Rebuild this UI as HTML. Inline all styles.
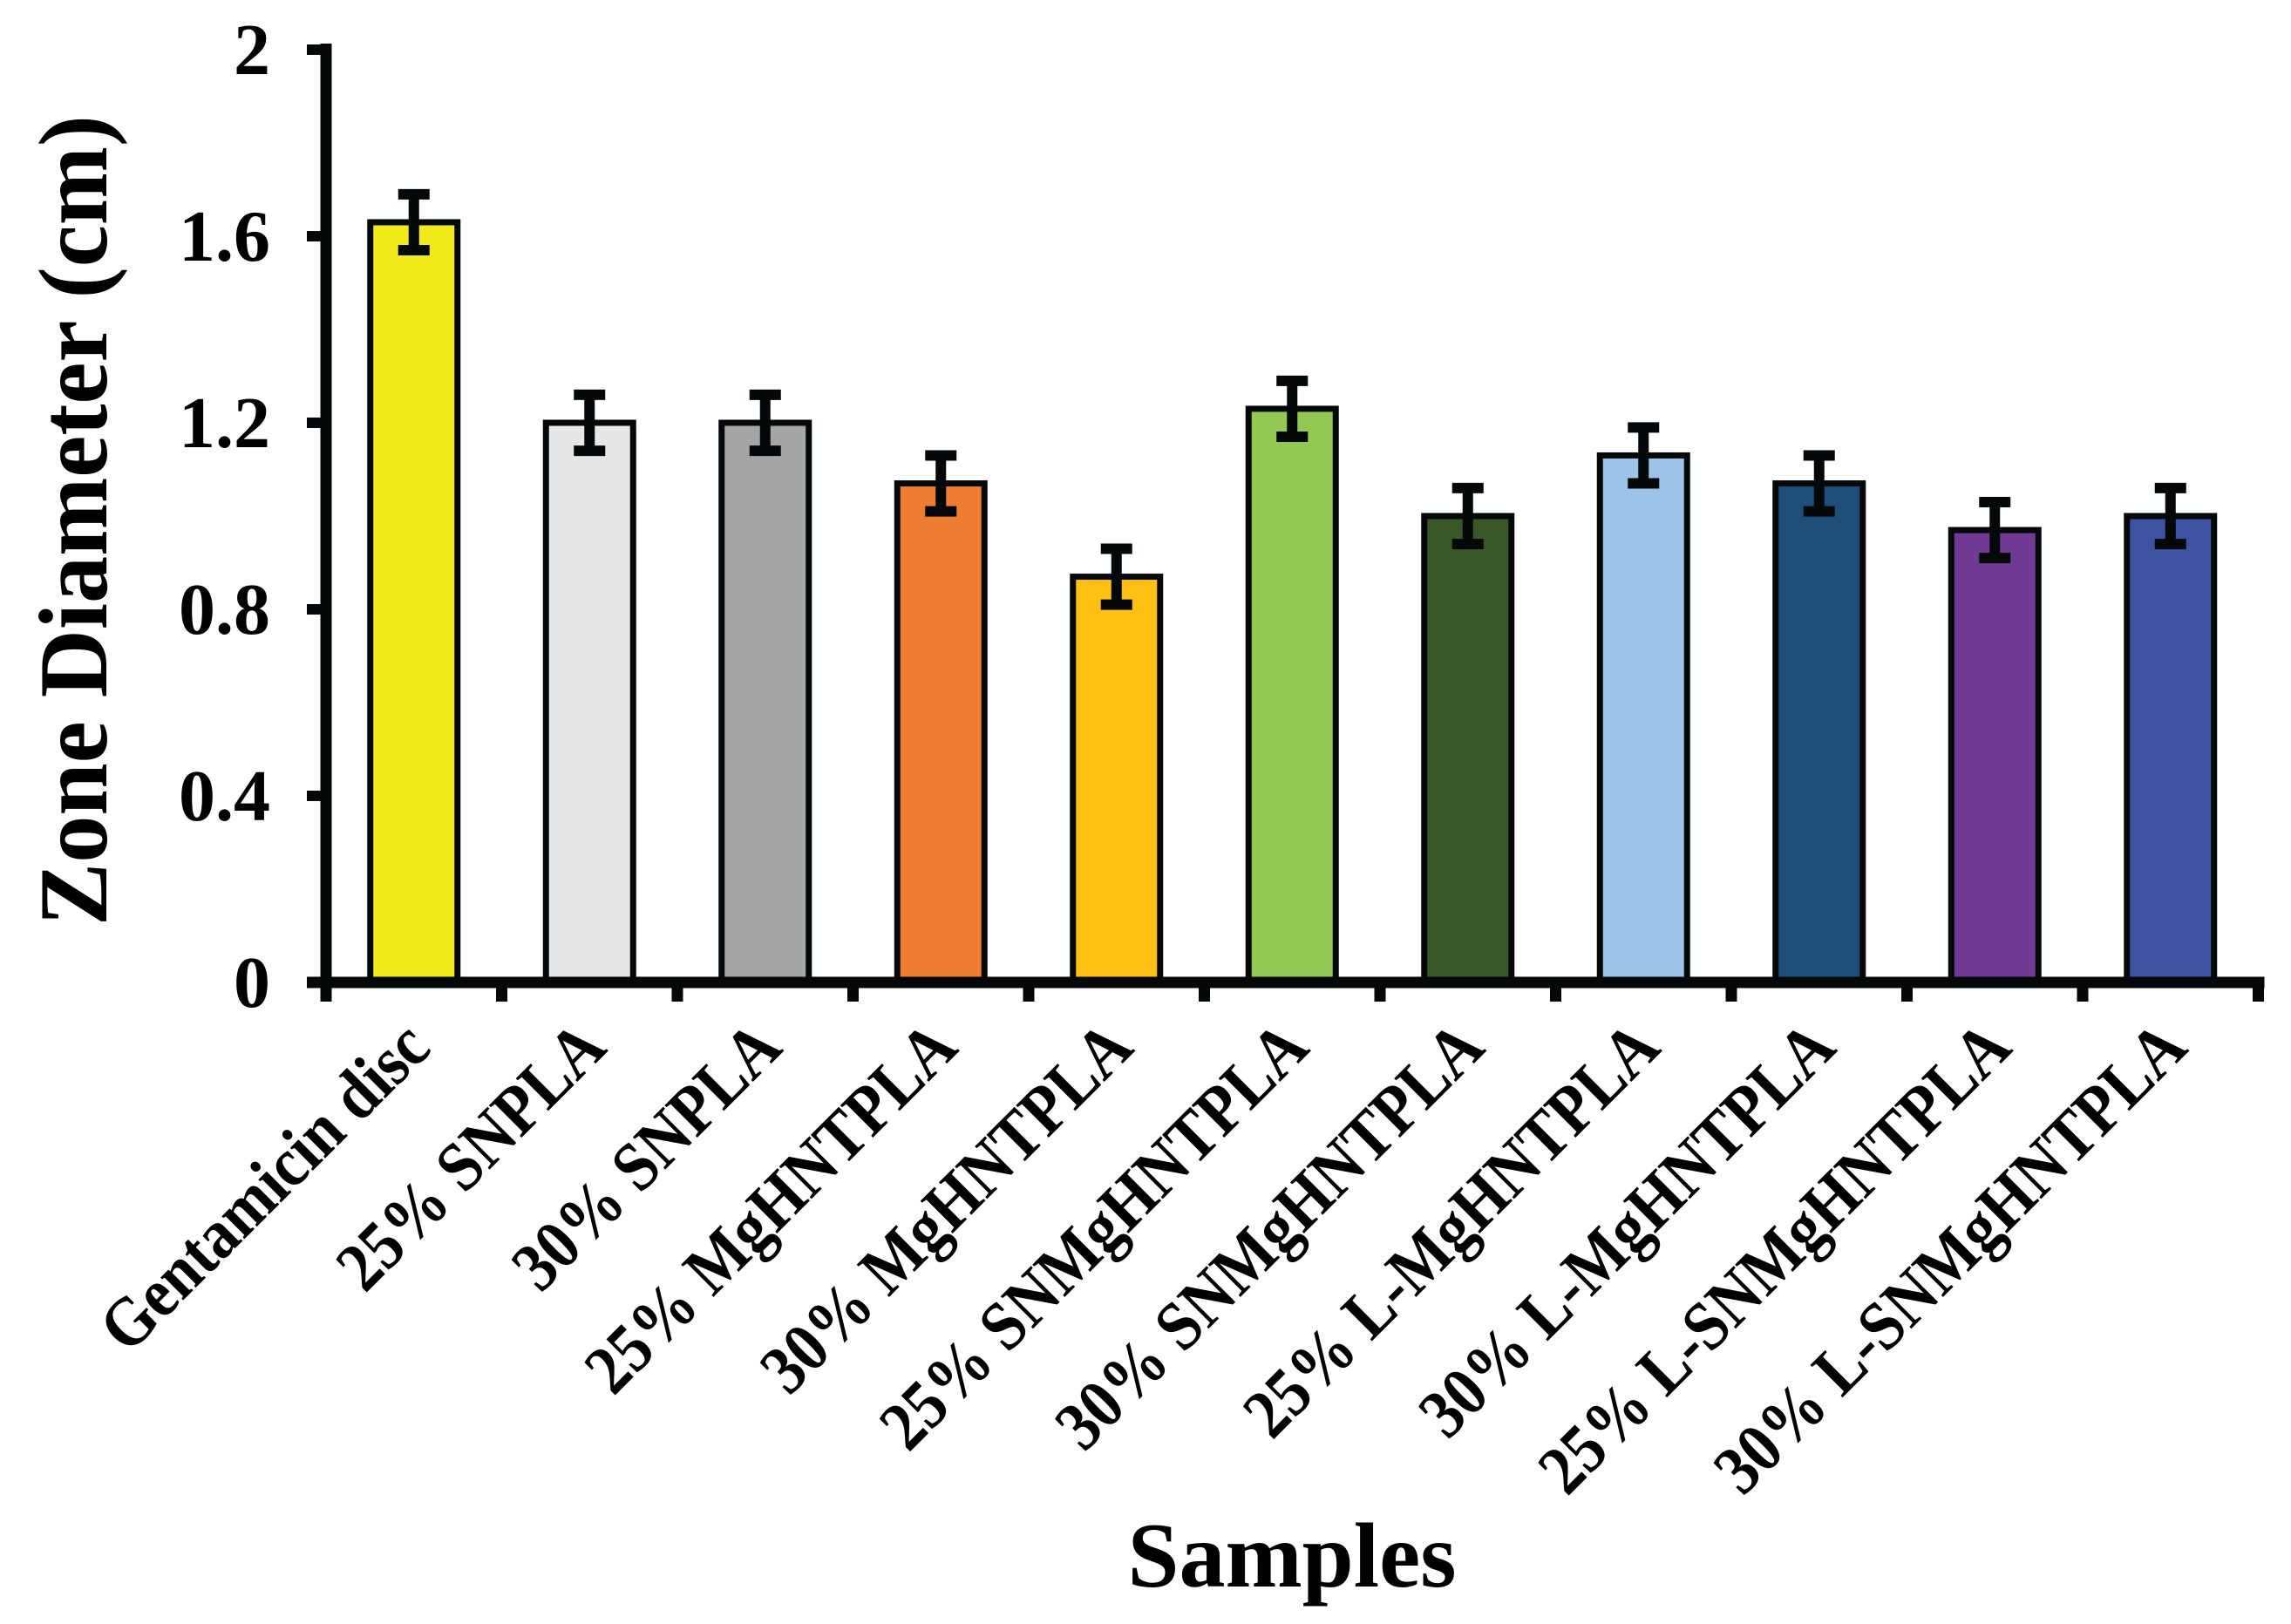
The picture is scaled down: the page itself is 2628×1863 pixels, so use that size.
<!DOCTYPE html>
<html><head><meta charset="utf-8"><style>
html,body{margin:0;padding:0;background:#fff;}
svg{display:block;font-family:"Liberation Serif",serif;font-weight:bold;}
</style></head><body>
<svg id="chart" width="2628" height="1863" viewBox="0 0 2628 1863" xmlns="http://www.w3.org/2000/svg">
<g id="bars"></g>
<g id="axes"></g>
<text x="0" y="0" transform="translate(122,597) rotate(-90)" text-anchor="middle" font-size="112" textLength="930" lengthAdjust="spacingAndGlyphs">Zone Diameter (cm)</text>
<text x="1482" y="1820" text-anchor="middle" font-size="106">Samples</text>
</svg>
<script>
const categories=["Gentamicin disc","25% SNPLA","30% SNPLA","25% MgHNTPLA","30% MgHNTPLA","25% SNMgHNTPLA","30% SNMgHNTPLA","25% L-MgHNTPLA","30% L-MgHNTPLA","25% L-SNMgHNTPLA","30% L-SNMgHNTPLA"];
const values=[1.63,1.20,1.20,1.07,0.87,1.23,1.00,1.13,1.07,0.97,1.00];
const errors=[0.06,0.06,0.06,0.06,0.06,0.06,0.06,0.06,0.06,0.06,0.06];
const colors=["#F2EA1B","#E7E7E7","#A5A5A5","#ED7D31","#FFC014","#92C853","#385728","#9DC3E6","#1F4E79","#703A94","#3F51A1"];
const yTicks=[0,0.4,0.8,1.2,1.6,2];
const yTickLabels=["0","0.4","0.8","1.2","1.6","2"];
const NS="http://www.w3.org/2000/svg";
const X0=374,STEP=201.5,Y0=1127,YUNIT=535,BW=100;
function yS(v){return Y0-v*YUNIT;}
function xC(i){return X0+(i+0.5)*STEP;}
function mk(tag,attrs,parent){const e=document.createElementNS(NS,tag);for(const k in attrs)e.setAttribute(k,attrs[k]);parent.appendChild(e);return e;}
const bars=document.getElementById('bars');
const axes=document.getElementById('axes');
values.forEach((v,i)=>{
  const r=mk('rect',{x:xC(i)-BW/2,y:yS(v),width:BW,height:Y0-yS(v),fill:colors[i],stroke:'#050808','stroke-width':7},bars);
  
  
  const g=mk('g',{},bars);
  
  
  const hi=yS(v+errors[i]),lo=yS(v-errors[i]);
  mk('line',{x1:xC(i),x2:xC(i),y1:hi,y2:lo,stroke:'#050808','stroke-width':12},g);
  mk('line',{x1:xC(i)-18,x2:xC(i)+18,y1:hi,y2:hi,stroke:'#050808','stroke-width':12},g);
  mk('line',{x1:xC(i)-18,x2:xC(i)+18,y1:lo,y2:lo,stroke:'#050808','stroke-width':12},g);
  const t=mk('text',{x:0,y:0,'font-size':73,'text-anchor':'end',transform:`translate(${xC(i)+22},${1205}) rotate(-45) scale(0.98,1.1)`},axes);
  t.textContent=categories[i];
  
  
});
mk('line',{x1:X0,x2:X0,y1:50,y2:1149,stroke:'#050808','stroke-width':13},axes);
mk('line',{x1:352,x2:X0+11*STEP+7,y1:Y0,y2:Y0,stroke:'#050808','stroke-width':13},axes);
for(let k=1;k<=11;k++){mk('line',{x1:X0+k*STEP,x2:X0+k*STEP,y1:Y0,y2:1149,stroke:'#050808','stroke-width':13},axes);}
yTicks.forEach((v,i)=>{
  mk('line',{x1:352,x2:X0,y1:yS(v),y2:yS(v),stroke:'#050808','stroke-width':12},axes);
  const t=mk('text',{x:310,y:yS(v)+28,'font-size':84,'text-anchor':'end'},axes);
  t.textContent=yTickLabels[i];
  
  
});
</script>
</body></html>
